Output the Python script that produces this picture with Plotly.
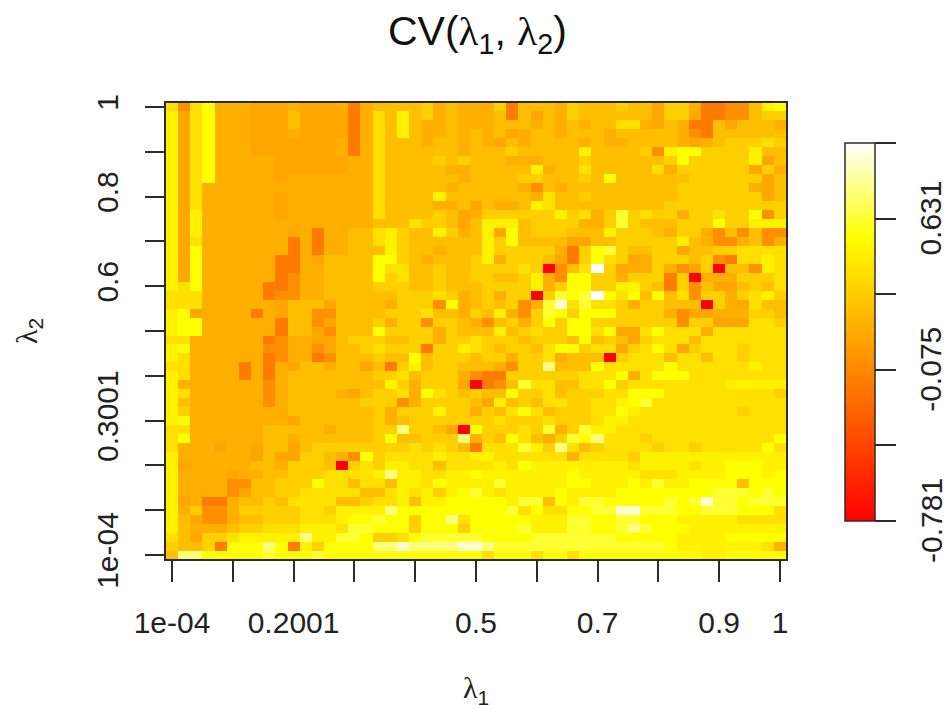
import plotly.graph_objects as go

# lambda grids
lambda1 = [0.0001] + [round(i * 0.02, 2) for i in range(1, 51)]
lambda2 = lambda1

codes = "0123456789abcde"
code_values = [-0.781, -0.287, -0.145, -0.04, 0.08, 0.125, 0.207, 0.295, 0.384, 0.472, 0.543, 0.631, 0.755, 0.896, 0.984]

# one string per lambda2 row, from lambda2 = 1 (top) to 1e-04 (bottom)
cv_rows = [
    "838a5 55444 54445 25666 67565 5 57266 65766 67664 77522 3369a",
    "948a5 55444 64444 25869 67565 5 56264 65766 66664 77422 33677",
    "948a5 55444 64444 25869 65565 5 56665 65656 68854 65226 46665",
    "948a5 55444 54444 25869 65565 6 56456 65666 56666 65326 66666",
    "948a5 55444 44445 25866 65665 6 54656 66656 55666 65456 77787",
    "948a5 55444 44445 25866 66665 6 66766 66696 66673 9aa77 77966",
    "948a5 55554 44444 55866 66767 6 66555 66676 66666 7a777 77946",
    "948a5 55554 44444 55866 66655 6 66669 56686 66668 57777 77475",
    "948a5 55554 55555 55866 66665 6 66677 66676 a6666 66777 77746",
    "94855 55555 55555 55866 66656 6 66653 65666 66666 67777 77546",
    "94855 55554 55555 55866 66966 6 66665 86676 66666 67777 77746",
    "94855 55554 55555 55866 66556 4 65569 86666 66666 77777 77777",
    "94955 55554 55555 55866 66764 5 77777 79785 7b787 75778 77a37",
    "94955 55555 55555 55666 87764 6 99967 77755 7b766 6777a 77999",
    "94955 55555 45255 66897 66975 6 94a67 77666 97776 57753 63633",
    "94855 55555 25255 66897 66666 6 97a66 66446 67777 79653 35635",
    "94a55 55555 25255 66697 66566 6 97777 7527a b7667 74667 78888",
    "94a55 55552 25466 66aa7 65666 7 95777 6427a 87457 77673 28898",
    "94a55 55552 25566 66a88 66766 7 77787 0368e 74557 53470 66398",
    "94a55 55552 35566 66a78 66766 7 76679 53aa7 75777 27055 57778",
    "98a55 55522 35566 66777 66766 6 77779 57aa7 79976 27364 46768",
    "88855 55523 35566 66667 77875 6 75770 7babe a8a6a 68377 57897",
    "88855 55554 66646 66657 773a5 6 76735 bd8b8 87577 66607 54866",
    "9a455 55254 66336 66677 78665 7 69537 ba7aa a7777 53445 55776",
    "9aa55 55552 66346 66757 73776 5 36757 a7aa7 77777 73774 44887",
    "9aa55 55552 66436 66a77 77576 6 69678 77aa8 a448a 88858 88888",
    "88555 55523 55446 77766 77577 8 77767 776a6 76478 88688 88888",
    "9a555 55533 55346 67877 72779 8 76776 8aa78 8478a 84788 87888",
    "98555 55523 55236 66766 a6777 6 77577 85666 07888 68868 87888",
    "88555 52525 46656 64627 96776 6 65377 c666a 88888 a8888 88988",
    "98555 52525 66666 66778 67775 3 22777 77788 8a58a aa888 88888",
    "95555 55535 66666 66697 57774 0 236b8 86688 a7888 88888 99999",
    "98555 55535 66665 46778 5a876 7 66a77 86777 88aaa 88888 88887",
    "96555 55535 66666 67773 57777 6 49676 88778 89ab8 88888 88888",
    "97555 55555 66666 66757 77977 5 768a8 67778 8a988 88888 87888",
    "9a555 55555 46666 66756 77777 7 78777 87778 99888 88888 88888",
    "88555 55566 66656 6677c 77640 a 77787 b57b9 98888 88888 88888",
    "8a555 55566 56666 667a6 6777c 5 76a86 57bac 88878 88888 8888a",
    "85554 55466 46777 77777 87876 2 888b9 7c867 88887 88788 888a8",
    "95555 55464 47765 3a788 88988 9 98888 88588 88799 99999 99999",
    "94555 55665 77760 78799 88688 8 898a9 99999 99899 99899 aaa99",
    "95555 45566 77788 889c9 98899 a 99999 99a99 99988 89999 aaa9a",
    "95555 33667 77a88 68869 98a99 9 9b999 99aa9 99a9b 99aaa a6aaa",
    "95555 34667 78888 86689 8979a b 98999 9a999 9aaaa aaaab bbaba",
    "94522 56676 88886 67889 699aa a aa9bb 6a9bb aaaaa babdb babbb",
    "95733 57777 78879 999ca aaaaa a aab8a 88aab bddbb baabb baaa8",
    "96433 56677 78889 aabaa 7aac8 a aaaa9 99bba abbaa a9999 98888",
    "96555 67788 8999 8bbaaa 7aaa7 a aaab9 99bba abcba aa999 99999",
    "86477 89999 9c99b ba778 abbbb b aaaab bbbbb baaaa a9999 aaaaa",
    "76672 aaaca 297aa aaccd ccccd d cbbbb bbbbb bbbbb a9999 99985",
    "6ccaa aaaba aabaa aaaaa aaaaa a 8aaa8 aa8aa aaaaa aaa99 aaaaa",
]

x_tick_vals = [0.0001, 0.2, 0.5, 0.7, 0.9, 1]
x_tick_text = ["1e-04", "0.2001", "0.5", "0.7", "0.9", "1"]
x_minor_vals = [0.1, 0.3, 0.4, 0.6, 0.8]
y_tick_vals = [0.0001, 0.3, 0.6, 0.8, 1]
y_tick_text = ["1e-04", "0.3001", "0.6", "0.8", "1"]
y_minor_vals = [0.1, 0.2, 0.4, 0.5, 0.7, 0.9]
bar_tick_vals = [-0.781, -0.428, -0.075, 0.278, 0.631, 0.984]
bar_labels = {-0.781: "-0.781", -0.075: "-0.075", 0.631: "0.631"}

W, H = 951, 709
L, R, T, B = 166, 786, 103, 559
FONT = "Liberation Sans"
AXC = "#2b2b2b"
TXT = "#222222"
LAM = "<span style=\"font-family:'Liberation Serif'\">λ</span>"

z = []
for row in reversed(cv_rows):
    s = row.replace(" ", "")
    assert len(s) == 51, row
    z.append([code_values[codes.index(c)] for c in s])

BAR_TOP, BAR_BOT = 143, 521

fig = go.Figure(go.Heatmap(
    x=lambda1, y=lambda2, z=z, zmin=-0.781, zmax=0.984,
    colorscale=[[0, "#ff0000"], [0.75, "#ffff00"], [1, "#ffffff"]],
    colorbar=dict(
        thicknessmode="pixels", thickness=30, lenmode="pixels", len=BAR_BOT - BAR_TOP,
        x=845 / W, xanchor="left", xpad=0, y=1 - BAR_TOP / H, yanchor="top", ypad=0,
        outlinecolor=AXC, outlinewidth=1.5,
        ticks="outside", ticklen=21, tickwidth=1.5, tickcolor=AXC,
        tickmode="array", tickvals=bar_tick_vals, showticklabels=False,
    ),
))

span = 1 - 0.0001
xp = span * 6 / 608
yp = span * 4 / 447


def note(text, px, py, size, angle=0, color=TXT, **extra):
    return dict(text=text, x=px / W, y=1 - py / H, xref="paper", yref="paper",
                xanchor="center", yanchor="middle", textangle=angle, showarrow=False,
                font=dict(family=FONT, size=size, color=color), **extra)


annotations = [
    note(f"CV({LAM}<sub>1</sub>, {LAM}<sub>2</sub>)", 477, 34, 41, color="#111111"),
    note(f"{LAM}<sub>1</sub>", 476, 690, 30, height=36),
    note(f"{LAM}<sub>2</sub>", 29, 331, 30, angle=-90),
]
for v, label in bar_labels.items():
    py = BAR_BOT - (v + 0.781) / 1.765 * (BAR_BOT - BAR_TOP)
    annotations.append(note(label, 931, py, 30, angle=-90))

fig.update_layout(
    width=W, height=H, autosize=False,
    margin=dict(l=0, r=0, t=0, b=0, autoexpand=False),
    paper_bgcolor="white", plot_bgcolor="white",
    showlegend=False,
    xaxis=dict(domain=[L / W, R / W], range=[0.0001 - xp, 1 + xp], anchor="y",
               tickmode="array", tickvals=x_tick_vals, ticktext=x_tick_text,
               ticks="outside", ticklen=21, tickwidth=1.5, tickcolor=AXC, ticklabelstandoff=15,
               tickfont=dict(family=FONT, size=30, color=TXT),
               minor=dict(tickmode="array", tickvals=x_minor_vals, ticks="outside", ticklen=21,
                          tickwidth=1.5, tickcolor=AXC, showgrid=False),
               showline=True, linecolor=AXC, linewidth=1.5, mirror=True,
               showgrid=False, zeroline=False),
    yaxis=dict(domain=[1 - B / H, 1 - T / H], range=[0.0001 - yp, 1 + yp], anchor="x",
               tickmode="array", tickvals=y_tick_vals, ticktext=y_tick_text,
               ticks="outside", ticklen=19, tickwidth=1.5, tickcolor=AXC, tickangle=-90, ticklabelstandoff=15,
               tickfont=dict(family=FONT, size=30, color=TXT),
               minor=dict(tickmode="array", tickvals=y_minor_vals, ticks="outside", ticklen=19,
                          tickwidth=1.5, tickcolor=AXC, showgrid=False),
               showline=True, linecolor=AXC, linewidth=1.5, mirror=True,
               showgrid=False, zeroline=False),
    annotations=annotations,
)

fig.write_html("out.html", config={"displayModeBar": False},
               post_script="document.body.style.margin='0';")
